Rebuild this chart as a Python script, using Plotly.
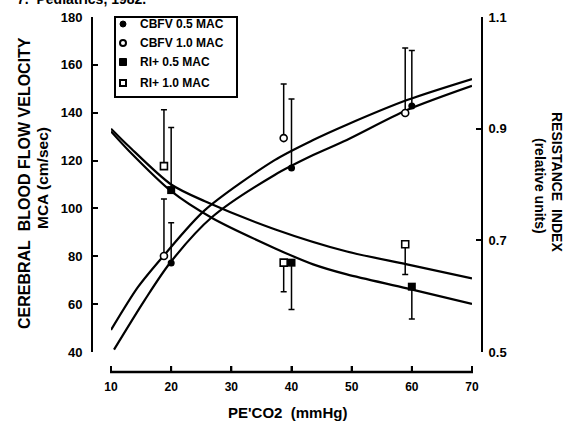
import plotly.graph_objects as go

# ---------------- data ----------------
x_ticks = [10, 20, 30, 40, 50, 60, 70]
y_left_ticks = [40, 60, 80, 100, 120, 140, 160, 180]
y_right_ticks = [0.5, 0.7, 0.9, 1.1]

# measured points
x_filled = [20, 40, 60]
x_open = [18.8, 38.7, 58.9]

cbfv_05 = [77.2, 116.9, 142.8]
cbfv_05_upper = [94.0, 145.7, 166.0]
cbfv_10 = [80.1, 129.4, 139.9]
cbfv_10_upper = [103.9, 152.0, 167.0]

ri_05 = [0.790, 0.660, 0.617]
ri_05_plus = [0.112, 0.0, 0.0]
ri_05_minus = [0.0, 0.084, 0.058]
ri_10 = [0.833, 0.660, 0.693]
ri_10_plus = [0.101, 0.0, 0.0]
ri_10_minus = [0.0, 0.052, 0.054]

# fitted curves
cbfv10_curve_x = [10, 14.5, 18.7, 25.6, 37.2, 43.6, 49.2, 59.2, 70]
cbfv10_curve_y = [49.2, 67.2, 80.1, 99.3, 120.2, 128.6, 135.0, 145.3, 154.1]
cbfv05_curve_x = [10.5, 15.6, 19.8, 26.8, 37.2, 43.6, 49.2, 59.2, 70]
cbfv05_curve_y = [41.0, 61.7, 77.2, 96.4, 114.0, 122.3, 128.6, 141.1, 151.2]
ri10_curve_x = [10, 13, 20, 25.6, 37.2, 49.2, 59.2, 70]
ri10_curve_y = [0.900, 0.868, 0.800, 0.770, 0.720, 0.680, 0.657, 0.632]
ri05_curve_x = [10, 13, 20, 26.8, 37.2, 43.6, 49.2, 59.2, 70]
ri05_curve_y = [0.895, 0.860, 0.788, 0.740, 0.686, 0.657, 0.639, 0.614, 0.586]

legend_labels = ["CBFV 0.5 MAC", "CBFV 1.0 MAC", "RI+ 0.5 MAC", "RI+ 1.0 MAC"]

# ---------------- layout helpers ----------------
W, H = 564, 421
L, R, T, B = 92, 482, 17, 372
PW, PH = R - L, B - T
FONT = "Liberation Sans, Arial, sans-serif"


def pxx(p):
    return (p - L) / PW


def pxy(p):
    return (B - p) / PH


X_DOMAIN = [pxx(111), pxx(472)]
X_RANGE = [10, 70]


def x_to_paper(v):
    return X_DOMAIN[0] + (v - X_RANGE[0]) / (X_RANGE[1] - X_RANGE[0]) * (X_DOMAIN[1] - X_DOMAIN[0])


fig = go.Figure()

line_style = dict(color="black", width=2.2, shape="spline", smoothing=0.8)
fig.add_trace(go.Scatter(x=cbfv10_curve_x, y=cbfv10_curve_y, mode="lines",
                         line=line_style, showlegend=False, yaxis="y"))
fig.add_trace(go.Scatter(x=cbfv05_curve_x, y=cbfv05_curve_y, mode="lines",
                         line=line_style, showlegend=False, yaxis="y"))
fig.add_trace(go.Scatter(x=ri10_curve_x, y=ri10_curve_y, mode="lines",
                         line=line_style, showlegend=False, yaxis="y2"))
fig.add_trace(go.Scatter(x=ri05_curve_x, y=ri05_curve_y, mode="lines",
                         line=line_style, showlegend=False, yaxis="y2"))

err_style = dict(color="black", thickness=1.5, width=3)

fig.add_trace(go.Scatter(
    x=x_filled, y=cbfv_05, mode="markers", name=legend_labels[0], yaxis="y",
    marker=dict(symbol="circle", size=7, color="black"),
    error_y=dict(type="data", symmetric=False,
                 array=[u - v for u, v in zip(cbfv_05_upper, cbfv_05)],
                 arrayminus=[0, 0, 0], **err_style),
    showlegend=False))
fig.add_trace(go.Scatter(
    x=x_open, y=cbfv_10, mode="markers", name=legend_labels[1], yaxis="y",
    marker=dict(symbol="circle", size=7, color="white",
                line=dict(color="black", width=1.6)),
    error_y=dict(type="data", symmetric=False,
                 array=[u - v for u, v in zip(cbfv_10_upper, cbfv_10)],
                 arrayminus=[0, 0, 0], **err_style),
    showlegend=False))
fig.add_trace(go.Scatter(
    x=x_filled, y=ri_05, mode="markers", name=legend_labels[2], yaxis="y2",
    marker=dict(symbol="square", size=8, color="black"),
    error_y=dict(type="data", symmetric=False, array=ri_05_plus,
                 arrayminus=ri_05_minus, **err_style),
    showlegend=False))
fig.add_trace(go.Scatter(
    x=x_open, y=ri_10, mode="markers", name=legend_labels[3], yaxis="y2",
    marker=dict(symbol="square", size=7, color="white",
                line=dict(color="black", width=1.6)),
    error_y=dict(type="data", symmetric=False, array=ri_10_plus,
                 arrayminus=ri_10_minus, **err_style),
    showlegend=False))

common = dict(showline=True, linewidth=2, linecolor="black",
              ticks="inside", ticklen=5, tickwidth=2, tickcolor="black",
              showgrid=False, zeroline=False, automargin=False)

fig.update_layout(
    width=W, height=H,
    margin=dict(l=L, r=W - R, t=T, b=H - B, pad=0),
    paper_bgcolor="white", plot_bgcolor="white",
    showlegend=False,
    xaxis=dict(domain=X_DOMAIN, range=X_RANGE, anchor="free",
               position=0, tickvals=x_ticks, ticklabelstandoff=4,
               tickfont=dict(family=FONT, size=12, color="black", weight="bold"),
               **common),
    yaxis=dict(domain=[pxy(352), 1], range=[40, 180], anchor="free", position=0,
               tickvals=y_left_ticks, ticklabelstandoff=6,
               tickfont=dict(family=FONT, size=13, color="black", weight="bold"),
               **common),
    yaxis2=dict(overlaying="y", side="right", anchor="free", position=1,
                range=[0.5, 1.1], tickvals=y_right_ticks, tickformat=".1f",
                ticklabelstandoff=3,
                tickfont=dict(family=FONT, size=13, color="black", weight="bold"),
                **common),
)

ann = []


def text(px, py, s, size, angle=0, xanchor="center", yanchor="middle", bold=True):
    ann.append(dict(x=pxx(px), y=pxy(py), xref="paper", yref="paper", text=s,
                    showarrow=False, textangle=angle, xanchor=xanchor,
                    yanchor=yanchor,
                    font=dict(family=FONT, size=size, color="black",
                              weight="bold" if bold else "normal")))


# axis titles
text(24, 183, "CEREBRAL\u00a0\u00a0BLOOD FLOW VELOCITY", 16, angle=-90)
text(43, 178, "MCA (cm/sec)", 15.5, angle=-90)
text(557, 182, "RESISTANCE\u00a0\u00a0INDEX", 14, angle=90)
text(540, 186, "(relative units)", 14, angle=90)
text(287, 412, "PE'CO2\u00a0\u00a0(mmHg)", 15)
# source line at the very top, cut off by the page edge as in the original
text(15, -1, "7.\u00a0\u00a0Pediatrics, 1982.", 14, xanchor="left")

shapes = []
# detached x-axis baseline and its inward ticks
shapes.append(dict(type="line", xref="paper", yref="paper",
                   x0=pxx(110), x1=pxx(473), y0=pxy(372), y1=pxy(372),
                   line=dict(color="black", width=2.5), layer="above"))
for t in x_ticks:
    xp = x_to_paper(t)
    shapes.append(dict(type="line", xref="paper", yref="paper", x0=xp, x1=xp,
                       y0=pxy(373), y1=pxy(366),
                       line=dict(color="black", width=2), layer="above"))

# manual legend
shapes.append(dict(type="rect", xref="paper", yref="paper",
                   x0=pxx(115), x1=pxx(237), y0=pxy(97), y1=pxy(17),
                   line=dict(color="black", width=2), fillcolor="white",
                   layer="above", opacity=1))
rows = [24, 43, 62, 83]
mx = 123
shapes.append(dict(type="circle", xref="paper", yref="paper",
                   x0=pxx(mx - 3), x1=pxx(mx + 3), y0=pxy(rows[0] + 3), y1=pxy(rows[0] - 3),
                   fillcolor="black", line=dict(color="black", width=1),
                   layer="above", opacity=1))
shapes.append(dict(type="circle", xref="paper", yref="paper",
                   x0=pxx(mx - 3), x1=pxx(mx + 3), y0=pxy(rows[1] + 3), y1=pxy(rows[1] - 3),
                   fillcolor="white", line=dict(color="black", width=2),
                   layer="above", opacity=1))
shapes.append(dict(type="rect", xref="paper", yref="paper",
                   x0=pxx(mx - 3.5), x1=pxx(mx + 3.5), y0=pxy(rows[2] + 3.5), y1=pxy(rows[2] - 3.5),
                   fillcolor="black", line=dict(color="black", width=1),
                   layer="above", opacity=1))
shapes.append(dict(type="rect", xref="paper", yref="paper",
                   x0=pxx(mx - 3), x1=pxx(mx + 3), y0=pxy(rows[3] + 3), y1=pxy(rows[3] - 3),
                   fillcolor="white", line=dict(color="black", width=2),
                   layer="above", opacity=1))
for r, lab in zip(rows, legend_labels):
    text(138, r, lab, 12, xanchor="left")

fig.update_layout(annotations=ann, shapes=shapes)
fig.write_html("out.html")
